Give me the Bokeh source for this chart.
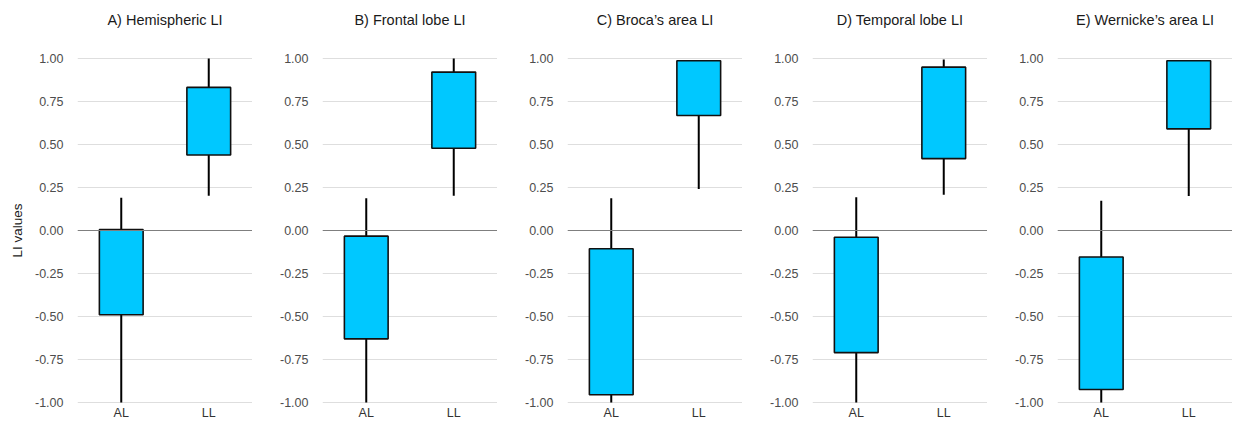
from bokeh.plotting import figure
from bokeh.models import FactorRange, Range1d, Span, ColumnDataSource, Title
from bokeh.layouts import row
from bokeh.embed import file_html
from bokeh.resources import INLINE

categories = ["AL", "LL"]
titles = ["A) Hemispheric LI", "B) Frontal lobe LI", "C) Broca\u2019s area LI",
          "D) Temporal lobe LI", "E) Wernicke\u2019s area LI"]
y_ticks = [-1.0, -0.75, -0.5, -0.25, 0.0, 0.25, 0.5, 0.75, 1.0]

al_whisker_low = [-1.0, -1.0, -1.0, -1.0, -1.0]
al_box_low = [-0.49, -0.63, -0.955, -0.71, -0.925]
al_box_high = [0.005, -0.033, -0.106, -0.039, -0.154]
al_whisker_high = [0.19, 0.187, 0.187, 0.193, 0.173]

ll_whisker_low = [0.202, 0.202, 0.241, 0.208, 0.2]
ll_box_low = [0.439, 0.478, 0.669, 0.418, 0.591]
ll_box_high = [0.832, 0.921, 0.987, 0.95, 0.987]
ll_whisker_high = [1.0, 1.0, 0.987, 0.995, 0.987]

FONT = "Liberation Sans"
FW, FH = 175, 346
figs = []
for i, t in enumerate(titles):
    p = figure(x_range=FactorRange(factors=categories, range_padding=0),
               y_range=Range1d(-1.006, 1.006),
               frame_width=FW, frame_height=FH,
               min_border_left=77 if i == 0 else 70, min_border_right=0,
               min_border_top=57, min_border_bottom=21,
               output_backend="svg", toolbar_location=None)
    # spacer (blank) then the panel title further from the frame
    p.add_layout(Title(text=" ", text_font=FONT, text_font_size="13px", standoff=5), "above")
    p.add_layout(Title(text=t, align="center", text_font=FONT, text_font_size="14.5px",
                       text_font_style="normal", text_color="#1a1a1a", standoff=16), "above")
    p.outline_line_color = None
    p.background_fill_color = "white"
    p.border_fill_color = "white"

    p.xgrid.grid_line_color = None
    p.ygrid.grid_line_color = "#dedede"
    p.ygrid.grid_line_width = 1
    p.yaxis.ticker = y_ticks
    p.yaxis.major_label_overrides = {v: f"{v:.2f}" for v in y_ticks}
    for ax in (p.xaxis[0], p.yaxis[0]):
        ax.axis_line_color = None
        ax.major_tick_line_color = None
        ax.minor_tick_line_color = None
        ax.major_tick_out = 0
        ax.minor_tick_out = 0
        ax.major_label_text_font = FONT
        ax.major_label_text_font_size = "12.5px"
        ax.major_label_text_color = "#4d4d4d"
    p.xaxis.major_label_text_color = "#333333"
    p.yaxis.major_label_standoff = 14
    p.xaxis.major_label_standoff = 2
    if i == 0:
        p.yaxis.axis_label = "LI values"
        p.yaxis.axis_label_text_font = FONT
        p.yaxis.axis_label_text_font_size = "13.5px"
        p.yaxis.axis_label_text_font_style = "normal"
        p.yaxis.axis_label_text_color = "#1a1a1a"
        p.yaxis.axis_label_standoff = 7

    p.add_layout(Span(location=0, dimension="width", line_color="#7f7f7f", line_width=1.2))

    src = ColumnDataSource(dict(
        x=categories,
        wlo=[al_whisker_low[i], ll_whisker_low[i]],
        blo=[al_box_low[i], ll_box_low[i]],
        bhi=[al_box_high[i], ll_box_high[i]],
        whi=[al_whisker_high[i], ll_whisker_high[i]],
    ))
    p.segment(x0="x", y0="bhi", x1="x", y1="whi", source=src, line_color="black", line_width=2)
    p.segment(x0="x", y0="wlo", x1="x", y1="blo", source=src, line_color="black", line_width=2)
    p.vbar(x="x", width=0.5, bottom="blo", top="bhi", source=src,
           fill_color="#00C8FF", line_color="#111111", line_width=1.6)
    figs.append(p)

layout = row(*figs, spacing=0)
open("out.html", "w").write(file_html(layout, INLINE))
